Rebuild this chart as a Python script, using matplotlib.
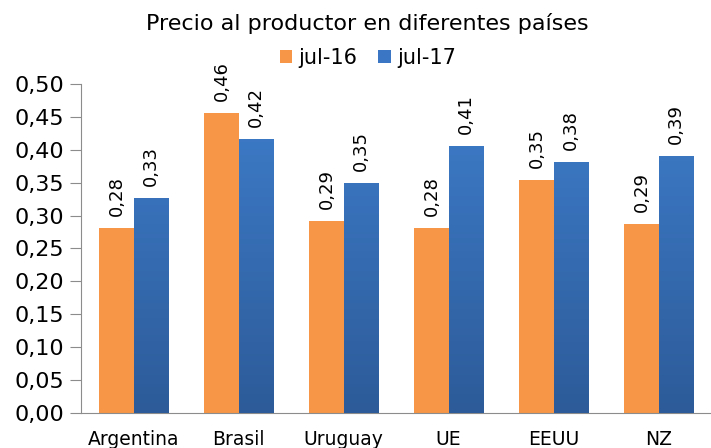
import numpy as np
import matplotlib
matplotlib.use("Agg")
import matplotlib.pyplot as plt
from matplotlib.colors import LinearSegmentedColormap

categories = ["Argentina", "Brasil", "Uruguay", "UE", "EEUU", "NZ"]
jul16 = [0.281, 0.456, 0.292, 0.281, 0.354, 0.287]
jul17 = [0.327, 0.416, 0.350, 0.406, 0.381, 0.391]
series_names = ["jul-16", "jul-17"]
yticks = np.arange(0, 0.501, 0.05)

orange = "#F79646"
blue = "#3A76C3"
blue_grad = LinearSegmentedColormap.from_list("bg", ["#2D5B99", "#3E7ECC"])


def fmt(v):
    return f"{v:.2f}".replace(".", ",")


def main():
    plt.rcParams["font.family"] = ["DejaVu Sans"]
    fig = plt.figure(figsize=(7.11, 4.48), dpi=100)
    ax = fig.add_axes([81 / 711, 35 / 448, 630 / 711, 329 / 448])

    x = np.arange(len(categories))
    w = 0.325
    b1 = ax.bar(x - w / 2, jul16, w, color=orange, label=series_names[0], zorder=2)
    b2 = ax.bar(x + w / 2, jul17, w, color=blue, label=series_names[1], zorder=2)

    # vertical gradient on the blue bars
    grad = np.linspace(0, 1, 256).reshape(-1, 1)
    for rect in b2:
        x0 = rect.get_x()
        im = ax.imshow(grad, cmap=blue_grad, origin="lower", aspect="auto",
                       extent=[x0, x0 + rect.get_width(), 0, 0.5], zorder=3)
        im.set_clip_path(rect)

    for rects, vals in ((b1, jul16), (b2, jul17)):
        for rect, v in zip(rects, vals):
            ax.text(rect.get_x() + rect.get_width() / 2, v + 0.018, fmt(v),
                    rotation=90, ha="center", va="bottom", fontsize=13, zorder=4)

    ax.set_xlim(-0.5, len(categories) - 0.5)
    ax.set_ylim(0, 0.5)
    ax.set_yticks(yticks)
    ax.set_yticklabels([fmt(v) for v in yticks], fontsize=16)
    ax.set_xticks(x)
    ax.set_xticklabels(categories, fontsize=13.5)
    ax.tick_params(axis="x", length=0, pad=12)
    ax.tick_params(axis="y", length=8, color="#8C8C8C", pad=4)
    for s in ("top", "right"):
        ax.spines[s].set_visible(False)
    for s in ("left", "bottom"):
        ax.spines[s].set_color("#8C8C8C")

    fig.text(0.517, 0.948, "Precio al productor en diferentes países",
             ha="center", va="center", fontsize=16)
    ax.legend(loc="center", bbox_to_anchor=(0.455, 1.08), ncol=2,
              frameon=False, fontsize=15, handlelength=0.6, handleheight=0.6,
              columnspacing=1.0, handletextpad=0.3)

    fig.savefig("out.png", dpi=100)


if __name__ == "__main__":
    main()
